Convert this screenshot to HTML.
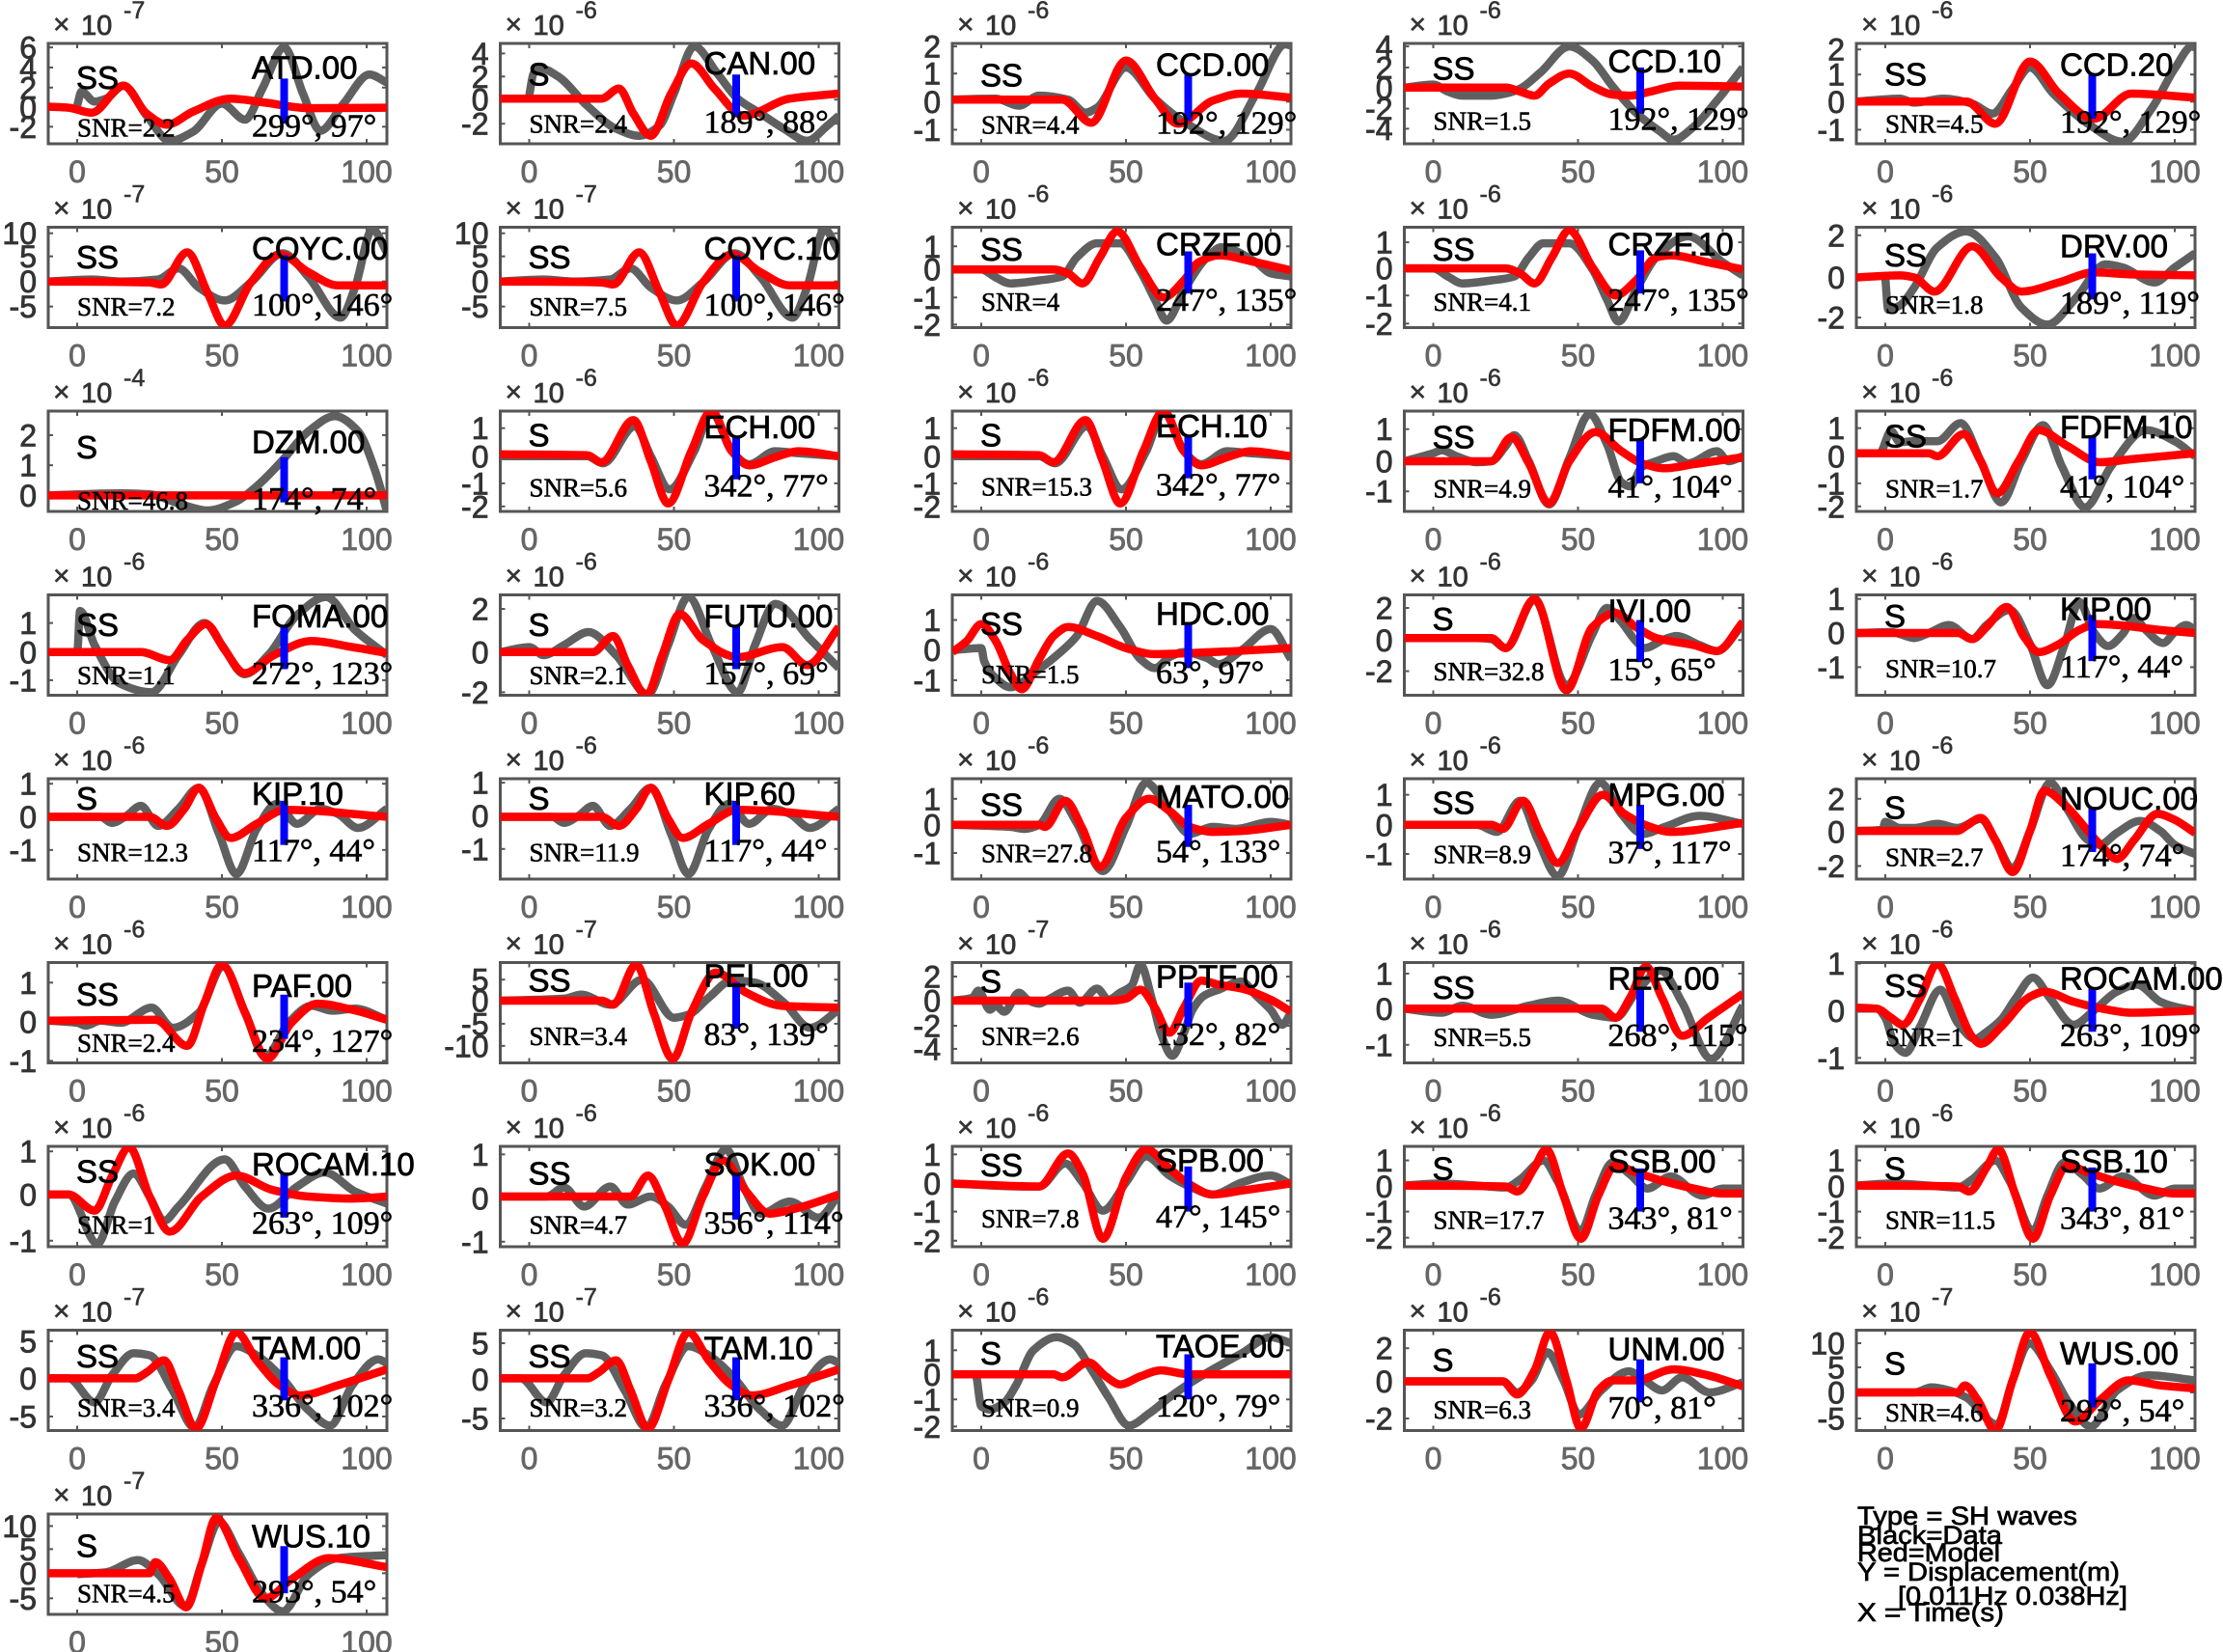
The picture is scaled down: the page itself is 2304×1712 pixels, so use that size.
<!DOCTYPE html>
<html><head><meta charset="utf-8">
<style>
html,body{margin:0;padding:0;background:#fff;}
svg{display:block;}
</style></head><body>
<svg id="c" xmlns="http://www.w3.org/2000/svg" width="2304" height="1712" viewBox="0 0 2304 1712">
<rect width="2304" height="1712" fill="#fff"/>
<g font-family="Liberation Sans, Arial, sans-serif" font-size="27" fill="#000" stroke="#000" stroke-width="0.7">
<text x="1925" y="1580" textLength="228" lengthAdjust="spacingAndGlyphs">Type = SH waves</text>
<text x="1925" y="1600" textLength="150" lengthAdjust="spacingAndGlyphs">Black=Data</text>
<text x="1925" y="1618" textLength="148" lengthAdjust="spacingAndGlyphs">Red=Model</text>
<text x="1925" y="1638" textLength="272" lengthAdjust="spacingAndGlyphs">Y = Displacement(m)</text>
<text x="1967" y="1663" textLength="238" lengthAdjust="spacingAndGlyphs">[0.011Hz 0.038Hz]</text>
<text x="1925" y="1680" textLength="152" lengthAdjust="spacingAndGlyphs">X = Time(s)</text>
</g>
</svg>
<script>
const svg=document.getElementById('c');
const NS='http://www.w3.org/2000/svg';
function el(t,a,p,txt){const e=document.createElementNS(NS,t);for(const k in a)e.setAttribute(k,a[k]);if(txt!==undefined)e.textContent=txt;(p||svg).appendChild(e);return e;}
const LX=[50,518.5,987,1455.5,1924],W=351,H=104;
const SANS='Liberation Sans, Arial, sans-serif', SERIF='Liberation Serif, Times New Roman, serif';
function X(L,t){return L+30+3*t;}
function pathFor(pts,L,T){
  const P=pts.map(p=>[X(L,p[0]),T+p[1]*H]);const n=P.length;
  const h=[],d=[];
  for(let i=0;i<n-1;i++){h[i]=P[i+1][0]-P[i][0];d[i]=(P[i+1][1]-P[i][1])/h[i];}
  const m=new Array(n);m[0]=d[0];m[n-1]=d[n-2];
  for(let i=1;i<n-1;i++){
    if(d[i-1]*d[i]<=0)m[i]=0;
    else{const w1=2*h[i]+h[i-1],w2=h[i]+2*h[i-1];m[i]=(w1+w2)/(w1/d[i-1]+w2/d[i]);}
  }
  let s='M'+P[0][0].toFixed(1)+' '+P[0][1].toFixed(1);
  for(let i=0;i<n-1;i++){
    const x0=P[i][0],y0=P[i][1],x1=P[i+1][0],y1=P[i+1][1],hh=h[i];
    s+=' C'+(x0+hh/3).toFixed(1)+' '+(y0+m[i]*hh/3).toFixed(1)+' '+(x1-hh/3).toFixed(1)+' '+(y1-m[i+1]*hh/3).toFixed(1)+' '+x1.toFixed(1)+' '+y1.toFixed(1);
  }
  return s;
}
const gCOYC=[[-10,.54],[5,.52],[15,.54],[28,.52],[35,.41],[42,.6],[51,.73],[60,.55],[71,.26],[80,.5],[91,.9],[96,.6],[102,.02],[107,.25]];
const rCOYC=[[-10,.54],[25,.55],[29,.57],[38,.25],[45,.65],[51,.98],[60,.55],[70,.27],[80,.45],[90,.58],[107,.58]];
const gECH=[[-10,.45],[20,.45],[25.5,.52],[36.5,.15],[42,.45],[48.5,.78],[57,.4],[63,.01],[70,.4],[76,.53],[85,.4],[93,.42],[107,.45]];
const rECH=[[-10,.43],[20,.44],[25,.51],[36,.09],[42,.5],[48,.92],[56,.4],[63,.0],[70,.4],[76,.54],[85,.46],[93,.4],[107,.45]];
const gKIP=[[-10,.38],[8,.38],[12,.44],[17,.37],[22,.27],[28,.47],[35,.3],[42,.09],[49,.55],[55,.95],[62,.5],[69,.25],[76,.45],[84,.3],[90,.35],[97,.49],[107,.3]];
const rKIP=[[-10,.38],[25,.38],[31,.47],[37,.3],[42,.09],[48,.4],[53,.59],[62,.45],[72,.31],[107,.38]];
const gSSB=[[-10,.39],[2,.37],[15,.39],[25,.41],[30,.33],[38,.14],[43,.35],[51,.84],[56,.49],[62,.16],[68,.28],[74,.42],[82,.3],[93,.49],[100,.42],[107,.42]];
const rSSB=[[-10,.39],[25,.4],[29,.45],[35,.21],[39,.03],[45,.49],[51,.92],[57,.49],[63,.19],[70,.26],[80,.35],[90,.42],[100,.47],[107,.47]];
const gTAM=[[-10,.48],[-3,.48],[6,.72],[12,.45],[19.5,.23],[25,.25],[33,.6],[40.5,.97],[47,.55],[55,.16],[62,.25],[70,.45],[80,.8],[87.4,.95],[95,.55],[104,.29],[107,.33]];
const rTAM=[[-10,.48],[20,.48],[24,.42],[30,.3],[35,.6],[41,.98],[48,.5],[55,.02],[62,.3],[70,.55],[77,.65],[90,.55],[107,.39]];
const tECH=[['1',.17],['0',.45],['-1',.72],['-2',.95]];
const tSSB=[['1',.14],['0',.4],['-1',.65],['-2',.91]];
const tCOYC=[['10',.06],['5',.29],['0',.54],['-5',.79]];
const P=[
[0,0,'-7',[['6',.04],['4',.24],['2',.44],['0',.64],['-2',.83]],'ATD.00','SS','SNR=2.2','299°, 97°',.35,.45,.93,.35,.80,
 [[0,.62],[1.5,.48],[6,.58],[10,.55],[16,.42],[24,.72],[32,.97],[40,.88],[50,.6],[58,.76],[64,.45],[71.5,.04],[78,.5],[84,.87],[92,.6],[101,.31],[107,.39]],
 [[-10,.63],[-3,.64],[5,.69],[16,.42],[24,.7],[31,.81],[40,.68],[53,.55],[65,.59],[80,.645],[107,.64]]],
[1,0,'-6',[['4',.1],['2',.33],['0',.56],['-2',.8]],'CAN.00','S','SNR=2.4','189°, 88°',.31,.42,.89,.31,.73,
 [[0,.52],[1.5,.3],[4,.25],[10,.33],[20,.62],[30,.85],[38,.92],[45,.82],[50,.5],[57,.03],[65,.3],[72,.55],[80,.7],[88,.85],[96,.97],[103,.82],[107,.72]],
 [[-10,.55],[25,.55],[31,.45],[36,.7],[42,.92],[49,.5],[56,.2],[64,.45],[74,.72],[90,.55],[107,.5]]],
[2,0,'-6',[['2',.03],['1',.3],['0',.58],['-1',.86]],'CCD.00','SS','SNR=4.4','192°, 129°',.32,.43,.9,.31,.77,
 [[-10,.56],[5,.55],[13,.62],[20,.52],[30,.56],[36,.69],[40,.64],[50,.24],[60,.55],[70,.78],[84,.97],[95,.5],[105,.01],[107,.02]],
 [[-10,.56],[28,.56],[38,.79],[50,.17],[60,.55],[68,.8],[80,.57],[90,.5],[107,.54]]],
[3,0,'-6',[['4',.03],['2',.24],['0',.44],['-2',.65],['-4',.85]],'CCD.10','SS','SNR=1.5','192°, 129°',.29,.36,.86,.24,.7,
 [[-10,.44],[0,.41],[5,.48],[10,.52],[20,.52],[25,.5],[30,.45],[37,.29],[47,.03],[55,.17],[62,.43],[70,.69],[78,.87],[83,.96],[90,.83],[98,.57],[107,.24]],
 [[-10,.44],[25,.44],[30,.48],[35,.52],[40,.4],[47,.3],[55,.43],[62,.51],[68,.52],[75,.48],[85,.42],[107,.43]]],
[4,0,'-6',[['2',.06],['1',.31],['0',.58],['-1',.86]],'CCD.20','SS','SNR=4.5','192°, 129°',.32,.42,.89,.31,.75,
 [[-10,.58],[5,.55],[10,.59],[20,.55],[30,.6],[37,.7],[44,.45],[50,.24],[58,.5],[70,.8],[82,.98],[92,.65],[100,.25],[106,.03],[107,.04]],
 [[-10,.58],[28,.58],[38,.8],[50,.18],[60,.5],[72,.75],[85,.5],[107,.54]]],
[0,1,'-7',tCOYC,'COYC.00','SS','SNR=7.2','100°, 146°',.32,.41,.88,.28,.74,gCOYC,rCOYC],
[1,1,'-7',tCOYC,'COYC.10','SS','SNR=7.5','100°, 146°',.32,.41,.88,.28,.74,gCOYC,rCOYC],
[2,1,'-6',[['1',.19],['0',.42],['-1',.7],['-2',.97]],'CRZF.00','SS','SNR=4','247°, 135°',.28,.33,.83,.24,.66,
 [[-10,.42],[0,.42],[5,.5],[10,.56],[20,.53],[28,.49],[33,.3],[40,.16],[48,.16],[55,.44],[60,.72],[64,.93],[70,.63],[78,.3],[83,.2],[95,.35],[100,.46],[107,.49]],
 [[-10,.42],[25,.42],[30,.46],[35,.56],[41,.3],[47,.04],[55,.4],[63,.7],[70,.53],[75,.35],[82,.28],[95,.35],[107,.43]]],
[3,1,'-6',[['1',.15],['0',.41],['-1',.68],['-2',.96]],'CRZF.10','SS','SNR=4.1','247°, 135°',.28,.33,.83,.23,.66,
 [[-10,.41],[0,.41],[5,.49],[10,.56],[20,.53],[28,.49],[33,.3],[38,.16],[47,.16],[55,.42],[60,.72],[64,.94],[70,.63],[77,.3],[88,.09],[100,.35],[107,.48]],
 [[-10,.41],[25,.41],[30,.46],[35,.56],[41,.3],[47,.03],[55,.4],[63,.68],[70,.53],[77,.3],[82,.28],[95,.35],[107,.42]]],
[4,1,'-6',[['2',.08],['0',.5],['-2',.9]],'DRV.00','SS','SNR=1.8','189°, 119°',.3,.39,.86,.26,.72,
 [[0,.5],[1,.82],[5,.78],[10,.6],[18,.2],[28,.04],[38,.3],[47,.8],[56,.97],[66,.7],[76,.37],[82,.4],[93,.55],[100,.4],[107,.26]],
 [[-10,.5],[5,.48],[10,.5],[17,.64],[30,.19],[40,.5],[47,.64],[60,.55],[72,.45],[85,.47],[107,.48]]],
[0,2,'-4',[['2',.24],['1',.54],['0',.84]],'DZM.00','S','SNR=46.8','174°, 74°',.42,.47,.98,.46,.91,
 [[-10,.84],[15,.82],[25,.83],[35,.92],[45,.99],[55,.9],[62,.75],[70,.52],[80,.2],[89,.05],[97,.2],[103,.6],[107,1.0]],
 [[-10,.84],[107,.84]]],
[1,2,'-6',tECH,'ECH.00','S','SNR=5.6','342°, 77°',.27,.35,.85,.26,.68,gECH,rECH],
[2,2,'-6',tECH,'ECH.10','S','SNR=15.3','342°, 77°',.26,.35,.84,.24,.67,gECH,rECH],
[3,2,'-6',[['1',.18],['0',.5],['-1',.8]],'FDFM.00','SS','SNR=4.9','41°, 104°',.3,.37,.86,.28,.72,
 [[-10,.5],[0,.42],[3,.39],[8,.45],[15,.51],[20,.5],[25,.35],[28,.24],[33,.5],[40,.93],[47,.47],[54,.03],[60,.33],[65,.71],[68,.75],[72,.56],[77,.5],[83,.45],[88,.52],[98,.4],[102,.5],[107,.45]],
 [[-10,.5],[15,.5],[20,.5],[27,.26],[33,.52],[40,.92],[47,.5],[56,.21],[65,.4],[72,.52],[80,.57],[90,.53],[107,.46]]],
[4,2,'-6',tECH,'FDFM.10','SS','SNR=1.7','41°, 104°',.27,.36,.86,.24,.68,
 [[-10,.42],[-2,.42],[2,.2],[5,.31],[10,.3],[18,.3],[26,.12],[33,.5],[40,.91],[47,.5],[54.5,.14],[61,.55],[69,.96],[78,.55],[90,.19],[100,.3],[107,.45]],
 [[-10,.42],[15,.42],[18,.45],[27,.23],[33,.5],[38.6,.82],[46,.5],[53,.19],[63,.35],[74,.51],[85,.48],[107,.42]]],
[0,3,'-6',[['1',.28],['0',.57],['-1',.85]],'FOMA.00','SS','SNR=1.1','272°, 123°',.32,.41,.89,.3,.74,
 [[-10,.57],[0,.57],[1,.16],[6,.5],[14.6,.88],[25.7,.97],[35,.6],[44,.28],[50,.5],[57.8,.79],[66,.6],[76,.2],[86,.02],[96,.35],[107,.6]],
 [[-10,.57],[22,.57],[32,.65],[38,.45],[44.5,.29],[51,.55],[57.8,.78],[68,.6],[81,.46],[95,.52],[107,.58]]],
[1,3,'-6',[['2',.14],['0',.57],['-2',.97]],'FUTU.00','S','SNR=2.1','157°, 69°',.32,.41,.89,.3,.74,
 [[-10,.57],[0,.52],[5,.6],[12,.5],[20.5,.37],[30,.6],[41,.99],[48,.5],[55,.02],[63,.5],[72,.97],[78,.5],[85,.09],[97,.44],[107,.73]],
 [[-10,.57],[22,.57],[29,.41],[34,.7],[40.5,1.0],[46,.6],[52,.19],[60,.45],[72,.62],[87.5,.52],[96,.7],[107,.32]]],
[2,3,'-6',[['1',.25],['0',.55],['-1',.85]],'HDC.00','SS','SNR=1.5','63°, 97°',.3,.4,.88,.27,.73,
 [[-10,.55],[0,.53],[1,.66],[5,.83],[10,.92],[20,.74],[27,.58],[33,.41],[40,.06],[48,.32],[55,.64],[60,.73],[65,.62],[70,.57],[78,.63],[82,.69],[90,.55],[100,.34],[107,.64]],
 [[-10,.57],[-5,.46],[0,.29],[5,.46],[10,.78],[14,.94],[20,.64],[25,.41],[30,.32],[40,.41],[50,.53],[60,.59],[80,.57],[107,.53]]],
[3,3,'-6',[['2',.13],['0',.45],['-2',.76]],'IVI.00','S','SNR=32.8','15°, 65°',.27,.35,.85,.25,.67,
 [[-10,.43],[15,.43],[20,.44],[25,.53],[35,.05],[46,.9],[55,.39],[60,.13],[65,.27],[70,.46],[73,.53],[80,.44],[84,.41],[92,.5],[98,.56],[107,.29]],
 [[-10,.43],[20,.43],[25,.53],[35,.04],[46,.95],[55,.32],[63,.18],[70,.32],[77,.43],[90,.5],[98,.56],[107,.27]]],
[4,3,'-6',[['1',.04],['0',.38],['-1',.72]],'KIP.00','S','SNR=10.7','117°, 44°',.25,.32,.82,.2,.66,
 [[-10,.38],[2,.37],[5,.39],[10,.43],[15,.38],[22,.3],[30,.44],[35,.3],[43,.15],[50,.49],[56,.9],[62,.49],[67,.07],[72,.37],[77,.51],[82,.39],[86,.23],[90,.35],[96,.48],[100,.37],[104,.3],[107,.35]],
 [[-10,.38],[25,.38],[30,.44],[35,.32],[42,.12],[48,.42],[53,.57],[60,.49],[67,.35],[73,.29],[80,.3],[95,.35],[107,.38]]],
[0,4,'-6',[['1',.05],['0',.38],['-1',.71]],'KIP.10','S','SNR=12.3','117°, 44°',.26,.31,.82,.22,.66,gKIP,rKIP],
[1,4,'-6',[['1',.04],['0',.37],['-1',.7]],'KIP.60','S','SNR=11.9','117°, 44°',.26,.31,.82,.22,.66,gKIP,rKIP],
[2,4,'-6',[['1',.2],['0',.46],['-1',.74]],'MATO.00','SS','SNR=27.8','54°, 133°',.29,.37,.83,.26,.68,
 [[-10,.46],[10,.48],[15,.5],[20,.46],[27,.2],[33,.44],[42,.92],[50,.48],[57,.04],[65,.32],[72,.55],[80,.48],[88,.5],[100,.43],[107,.46]],
 [[-10,.46],[20,.46],[22,.48],[29,.22],[35,.5],[41,.88],[50,.39],[58,.2],[65,.32],[72,.48],[80,.53],[90,.52],[107,.46]]],
[3,4,'-6',[['1',.16],['0',.46],['-1',.75]],'MPG.00','SS','SNR=8.9','37°, 117°',.27,.35,.84,.26,.7,
 [[-10,.46],[15,.46],[22,.53],[30,.22],[36,.6],[43,.97],[50,.5],[57.7,.04],[65,.35],[72.4,.55],[80,.48],[92,.37],[107,.45]],
 [[-10,.46],[20,.46],[24,.5],[31,.22],[37,.55],[43,.84],[50,.5],[58.6,.16],[66,.35],[75,.48],[82,.53],[107,.44]]],
[4,4,'-6',[['2',.2],['0',.53],['-2',.87]],'NOUC.00','S','SNR=2.7','174°, 74°',.31,.4,.87,.28,.73,
 [[-10,.52],[-1,.51],[0,.43],[5,.49],[10,.49],[18,.45],[25,.49],[33,.4],[38,.61],[44,.89],[50,.52],[57,.04],[63,.31],[70,.61],[74,.66],[80,.54],[88,.42],[95,.52],[100,.66],[107,.75]],
 [[-10,.52],[25,.52],[28,.47],[33,.39],[38,.61],[44,.93],[50,.52],[55,.12],[62,.26],[70,.52],[75,.68],[80,.8],[86,.61],[94,.35],[100,.41],[107,.54]]],
[0,5,'-6',[['1',.2],['0',.59],['-1',.98]],'PAF.00','SS','SNR=2.4','234°, 127°',.34,.43,.89,.32,.76,
 [[-10,.58],[0,.6],[3,.63],[8,.58],[15,.6],[25.7,.45],[33,.65],[42,.5],[50.4,.04],[58,.5],[65,.94],[73,.6],[81,.43],[88,.48],[96,.46],[107,.57]],
 [[-10,.58],[27,.57],[38,.83],[44,.4],[50,.02],[58,.5],[65.7,.96],[74,.6],[83,.41],[95,.47],[107,.57]]],
[1,5,'-7',[['5',.17],['0',.38],['-5',.61],['-10',.83]],'PEL.00','SS','SNR=3.4','83°, 139°',.24,.29,.82,.2,.66,
 [[-10,.38],[12,.36],[18,.32],[28,.42],[39,.17],[50,.55],[55,.52],[62,.35],[70,.18],[78,.2],[88,.4],[97,.65],[107,.47]],
 [[-10,.38],[25,.38],[29,.42],[37,.02],[43,.5],[49.6,.96],[56,.5],[64.5,.1],[75,.3],[87,.43],[107,.45]]],
[2,5,'-7',[['2',.14],['0',.38],['-2',.63],['-4',.86]],'PPTF.00','S','SNR=2.6','132°, 82°',.25,.3,.82,.2,.64,
 [[-10,.38],[-3,.35],[-1,.28],[3,.47],[5,.43],[8,.49],[13,.3],[16,.37],[20,.41],[23,.37],[30,.28],[34,.4],[40,.26],[44,.37],[48,.3],[52,.23],[55,.02],[59,.37],[62,.7],[66,.93],[70,.7],[73,.47],[77,.33],[82,.27],[90,.19],[95,.33],[100,.47],[104,.62],[107,.5]],
 [[-10,.38],[45,.38],[50,.36],[55,.27],[60,.45],[65,.7],[70,.45],[76,.18],[82,.22],[90,.26],[100,.37],[107,.49]]],
[3,5,'-6',[['1',.11],['0',.46],['-1',.82]],'RER.00','SS','SNR=5.5','268°, 115°',.27,.36,.83,.25,.69,
 [[-10,.46],[3,.5],[10,.43],[20,.52],[33,.43],[43,.38],[55,.52],[63,.55],[70,.3],[78.5,.08],[86,.4],[96,.96],[107,.43]],
 [[-10,.46],[58,.46],[63,.55],[68,.35],[73.5,.04],[79,.35],[86,.73],[95,.55],[107,.31]]],
[4,5,'-6',[['1',.01],['0',.48],['-1',.95]],'ROCAM.00','SS','SNR=1','263°, 109°',.27,.34,.83,.25,.69,
 [[-10,.46],[-3,.46],[0,.55],[3,.8],[7,.9],[12,.64],[19,.27],[25,.6],[31,.76],[35,.69],[40,.57],[45,.36],[51,.15],[57,.36],[65,.62],[72,.48],[80,.29],[87,.22],[95,.39],[100,.44],[107,.48]],
 [[-10,.45],[-3,.46],[2,.55],[6,.62],[12,.36],[18,.01],[24,.36],[30,.74],[33,.81],[40,.64],[50,.34],[55,.29],[65,.39],[75,.46],[85,.5],[107,.48]]],
[0,6,'-6',[['1',.05],['0',.48],['-1',.94]],'ROCAM.10','SS','SNR=1','263°, 109°',.29,.36,.87,.26,.71,
 [[-10,.48],[-3,.48],[7,.97],[13,.55],[19.5,.27],[25,.5],[30,.74],[35,.6],[51,.13],[58,.4],[66,.62],[76,.4],[85.5,.26],[96,.45],[107,.57]],
 [[-10,.48],[-3,.48],[6,.64],[12,.3],[18,.01],[25,.5],[32,.85],[43,.5],[55,.29],[67,.43],[80,.5],[95,.52],[107,.5]]],
[1,6,'-6',[['1',.08],['0',.52],['-1',.95]],'SOK.00','SS','SNR=4.7','356°, 114°',.29,.38,.87,.27,.73,
 [[-10,.5],[6,.5],[12,.41],[19,.6],[28,.4],[34,.58],[42,.5],[48,.6],[54,.78],[61,.4],[68,.03],[74,.4],[80,.67],[90,.55],[100,.71],[107,.48]],
 [[-10,.5],[35,.5],[41,.29],[47,.6],[53,.97],[60,.5],[67,.14],[75,.45],[83,.67],[92,.62],[107,.48]]],
[2,6,'-6',[['1',.08],['0',.37],['-1',.65],['-2',.94]],'SPB.00','SS','SNR=7.8','47°, 145°',.25,.3,.81,.2,.65,
 [[-10,.37],[15,.4],[20,.4],[29,.17],[35,.36],[42,.64],[50,.36],[57,.1],[65,.29],[72,.4],[80,.48],[90,.36],[100,.29],[107,.38]],
 [[-10,.37],[20,.4],[30,.07],[35,.27],[42,.92],[50,.31],[57,.03],[65,.22],[72,.38],[80,.48],[90,.44],[107,.37]]],
[3,6,'-6',tSSB,'SSB.00','S','SNR=17.7','343°, 81°',.26,.33,.82,.22,.65,gSSB,rSSB],
[4,6,'-6',tSSB,'SSB.10','S','SNR=11.5','343°, 81°',.26,.33,.82,.21,.65,gSSB,rSSB],
[0,7,'-7',[['5',.11],['0',.48],['-5',.86]],'TAM.00','SS','SNR=3.4','336°, 102°',.29,.37,.86,.27,.7,gTAM,rTAM],
[1,7,'-7',[['5',.13],['0',.49],['-5',.88]],'TAM.10','SS','SNR=3.2','336°, 102°',.29,.37,.86,.27,.7,gTAM,rTAM],
[2,7,'-6',[['1',.2],['0',.44],['-1',.69],['-2',.96]],'TAOE.00','S','SNR=0.9','120°, 79°',.27,.34,.86,.24,.69,
 [[-10,.44],[-2,.44],[0,.76],[3,.79],[8,.72],[12,.55],[18,.2],[26,.07],[32,.14],[38,.39],[44,.67],[51,.95],[58,.83],[65,.67],[72,.53],[80,.39],[90,.23],[100,.07],[107,.13]],
 [[-10,.44],[25,.44],[28,.47],[37,.32],[43,.46],[48,.54],[55,.46],[62,.4],[72,.44],[107,.44]]],
[3,7,'-6',[['2',.18],['0',.51],['-2',.88]],'UNM.00','S','SNR=6.3','70°, 81°',.3,.41,.88,.29,.72,
 [[-10,.51],[24,.51],[29,.62],[34,.5],[39.4,.22],[45,.5],[50.4,.84],[58,.6],[67.5,.41],[73,.5],[79,.6],[86,.47],[95.4,.62],[107,.52]],
 [[-10,.51],[24,.51],[29,.64],[35,.4],[40.3,.02],[46,.5],[51,.98],[57,.6],[62,.5],[70,.5],[83,.39],[95,.45],[107,.56]]],
[4,7,'-7',[['10',.13],['5',.37],['0',.62],['-5',.88]],'WUS.00','S','SNR=4.6','293°, 54°',.34,.44,.91,.33,.77,
 [[-10,.62],[10,.62],[16,.57],[22,.6],[28,.67],[38.6,.94],[44,.5],[49.8,.13],[57,.4],[64,.75],[71,.96],[80,.6],[91,.45],[107,.5]],
 [[-10,.62],[25,.62],[27.5,.55],[32,.7],[38,1.0],[44,.5],[50,.02],[57,.45],[65.6,.91],[74,.7],[84,.5],[95,.55],[107,.58]]],
[0,8,'-7',[['10',.12],['5',.35],['0',.59],['-5',.84]],'WUS.10','S','SNR=4.5','293°, 54°',.33,.43,.88,.32,.79,
 [[0,.6],[10,.58],[21,.46],[28,.6],[37.5,.92],[43,.5],[49,.08],[56,.4],[64,.8],[71,.97],[80,.6],[90,.44],[107,.41]],
 [[-10,.59],[25,.59],[27,.48],[32,.65],[37.6,.93],[43,.5],[48,.04],[56,.45],[65,.84],[74,.65],[87,.44],[107,.53]]]
];
P.forEach((p,i)=>{
  const [c,r,ex,ticks,name,ph,snr,ang,ny,py,by,b0,b1,g,rd]=p;
  const L=LX[c],T=45+190.5*r;
  const grp=el('g',{});
  const cp=el('clipPath',{id:'cp'+i},grp);
  el('rect',{x:L,y:T,width:W,height:H},cp);
  el('rect',{x:L,y:T,width:W,height:H,fill:'none',stroke:'#555','stroke-width':3},grp);
  [0,50,100].forEach(t=>{
    const x=X(L,t);
    el('line',{x1:x,y1:T+H,x2:x,y2:T+H-5,stroke:'#555','stroke-width':2},grp);
    el('line',{x1:x,y1:T,x2:x,y2:T+5,stroke:'#555','stroke-width':2},grp);
    el('text',{x:x,y:T+144,'text-anchor':'middle','font-size':32,fill:'#666',stroke:'#666','stroke-width':0.8,'font-family':SANS},grp,String(t));
  });
  ticks.forEach(([lab,f])=>{
    const y=T+f*H;
    el('line',{x1:L,y1:y,x2:L+5,y2:y,stroke:'#555','stroke-width':2},grp);
    el('line',{x1:L+W,y1:y,x2:L+W-5,y2:y,stroke:'#555','stroke-width':2},grp);
    el('text',{x:L-12,y:y+11.5,'text-anchor':'end','font-size':32,fill:'#333',stroke:'#333','stroke-width':0.8,'font-family':SANS},grp,lab);
  });
  el('text',{x:L+5,y:T-10,'font-size':30,fill:'#333',stroke:'#333','stroke-width':0.6,'font-family':SANS},grp,'×');
  el('text',{x:L+34,y:T-9,'font-size':29,fill:'#333',stroke:'#333','stroke-width':0.8,'font-family':SANS},grp,'10');
  el('text',{x:L+78,y:T-26,'font-size':25,fill:'#333',stroke:'#333','stroke-width':0.6,'font-family':SANS},grp,ex);
  el('path',{d:pathFor(g,L,T),fill:'none',stroke:'#606060','stroke-width':8.5,'stroke-linejoin':'round','clip-path':'url(#cp'+i+')'},grp);
  el('path',{d:pathFor(rd,L,T),fill:'none',stroke:'#ff0000','stroke-width':8.5,'stroke-linejoin':'round','clip-path':'url(#cp'+i+')'},grp);
  el('rect',{x:L+240.5,y:T+b0*H,width:8,height:(b1-b0)*H,fill:'#0000ff'},grp);
  el('text',{x:L+211,y:T+ny*H,'font-size':33,fill:'#000',stroke:'#000','stroke-width':0.8,'font-family':SANS},grp,name);
  el('text',{x:L+29,y:T+py*H,'font-size':33,fill:'#000',stroke:'#000','stroke-width':0.8,'font-family':SANS},grp,ph);
  el('text',{x:L+30,y:T+by*H,'font-size':27,fill:'#000',stroke:'#000','stroke-width':0.6,'font-family':SERIF},grp,snr);
  el('text',{x:L+211,y:T+by*H,'font-size':34,fill:'#000',stroke:'#000','stroke-width':0.6,'font-family':SERIF},grp,ang);
});
</script>
</body></html>
